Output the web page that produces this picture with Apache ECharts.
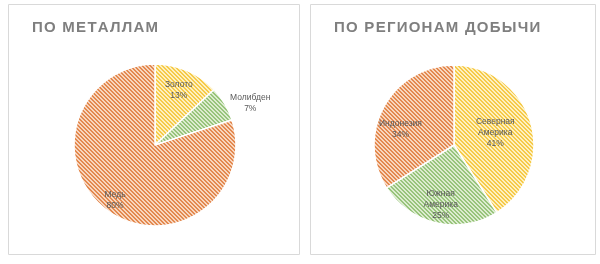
<!DOCTYPE html>
<html><head><meta charset="utf-8">
<script src="https://cdn.jsdelivr.net/npm/echarts@6/dist/echarts.min.js"></script>
<style>html,body{margin:0;padding:0;background:#fff}#c{width:600px;height:264px}</style>
</head><body><div id="c"></div>
<script>
// Data
const titleLeft = 'ПО МЕТАЛЛАМ';
const titleRight = 'ПО РЕГИОНАМ ДОБЫЧИ';
const metalNames = ['Золото', 'Молибден', 'Медь'];
const metalValues = [13, 7, 80];
const regionNames = ['Северная\nАмерика', 'Южная\nАмерика', 'Индонезия'];
const regionValues = [41, 25, 34];

// styles
const palette = {
  yellow: ['#fdf0c2', '#f6ca48'],
  green: ['#dcecd0', '#98c47b'],
  orange: ['#f8d6bf', '#e3894f']
};
function hatch(c) {
  const cv = document.createElement('canvas');
  cv.width = 4; cv.height = 4;
  const ctx = cv.getContext('2d');
  for (let y = 0; y < 4; y++) for (let x = 0; x < 4; x++) {
    const m = ((x - y) % 4 + 4) % 4;
    ctx.fillStyle = (m === 0 || m === 1) ? c[1] : c[0];
    ctx.fillRect(x, y, 1, 1);
  }
  return { image: cv, repeat: 'repeat' };
}
const metalColors = [hatch(palette.yellow), hatch(palette.green), hatch(palette.orange)];
const regionColors = [hatch(palette.yellow), hatch(palette.green), hatch(palette.orange)];
const metalLabelK = [1.38, 2.39, 1.56];
const metalLabelRot = [0, 7, 0];
const regionLabelK = [1.0, 1.42, 1.3];
const regionLabelRot = [0, 0, -12];

function spaced(s) { return s.split('').join('\u200A'); }

const chart = echarts.init(document.getElementById('c'), null, { renderer: 'canvas' });
const centers = [[155, 145], [454, 145]];

function mkLayout(k, rot, cIdx) {
  return function (p) {
    const r = p.labelRect;
    const lx = r.x + r.width / 2, ly = r.y + r.height / 2;
    const c = centers[cIdx];
    const vx = (lx - c[0]) * k[p.dataIndex], vy = (ly - c[1]) * k[p.dataIndex];
    const a = rot[p.dataIndex] * Math.PI / 180;
    const nx = vx * Math.cos(a) - vy * Math.sin(a);
    const ny = vx * Math.sin(a) + vy * Math.cos(a);
    return { dx: c[0] + nx - lx, dy: c[1] + ny - ly };
  };
}

const labelStyle = {
  show: true, position: 'inside', formatter: '{b}\n{d}%',
  fontFamily: 'Liberation Sans, Arial, sans-serif', fontSize: 8.5, color: '#595959',
  lineHeight: 11, align: 'center'
};
const titleStyle = { fontFamily: 'Liberation Sans, Arial, sans-serif', fontSize: 15, fontWeight: 'bold', color: '#7f7f7f' };

chart.setOption({
  animation: false,
  graphic: [
    { type: 'rect', shape: { x: 8.5, y: 4.5, width: 291, height: 250 }, style: { fill: 'none', stroke: '#d9d9d9', lineWidth: 1 } },
    { type: 'rect', shape: { x: 310.5, y: 4.5, width: 285, height: 250 }, style: { fill: 'none', stroke: '#d9d9d9', lineWidth: 1 } }
  ],
  title: [
    { text: spaced(titleLeft), left: 27, top: 15, textStyle: titleStyle },
    { text: spaced(titleRight), left: 329, top: 15, textStyle: titleStyle }
  ],
  series: [
    {
      type: 'pie', center: centers[0], radius: 81, startAngle: 90, clockwise: true,
      data: metalNames.map((n, i) => ({ name: n, value: metalValues[i], itemStyle: { color: metalColors[i] } })),
      itemStyle: { borderColor: '#ffffff', borderWidth: 1.5 },
      label: labelStyle, labelLine: { show: false },
      labelLayout: mkLayout(metalLabelK, metalLabelRot, 0), silent: true
    },
    {
      type: 'pie', center: centers[1], radius: 80, startAngle: 90, clockwise: true,
      data: regionNames.map((n, i) => ({ name: n, value: regionValues[i], itemStyle: { color: regionColors[i] } })),
      itemStyle: { borderColor: '#ffffff', borderWidth: 1.5 },
      label: labelStyle, labelLine: { show: false },
      labelLayout: mkLayout(regionLabelK, regionLabelRot, 1), silent: true
    }
  ]
});
</script></body></html>
